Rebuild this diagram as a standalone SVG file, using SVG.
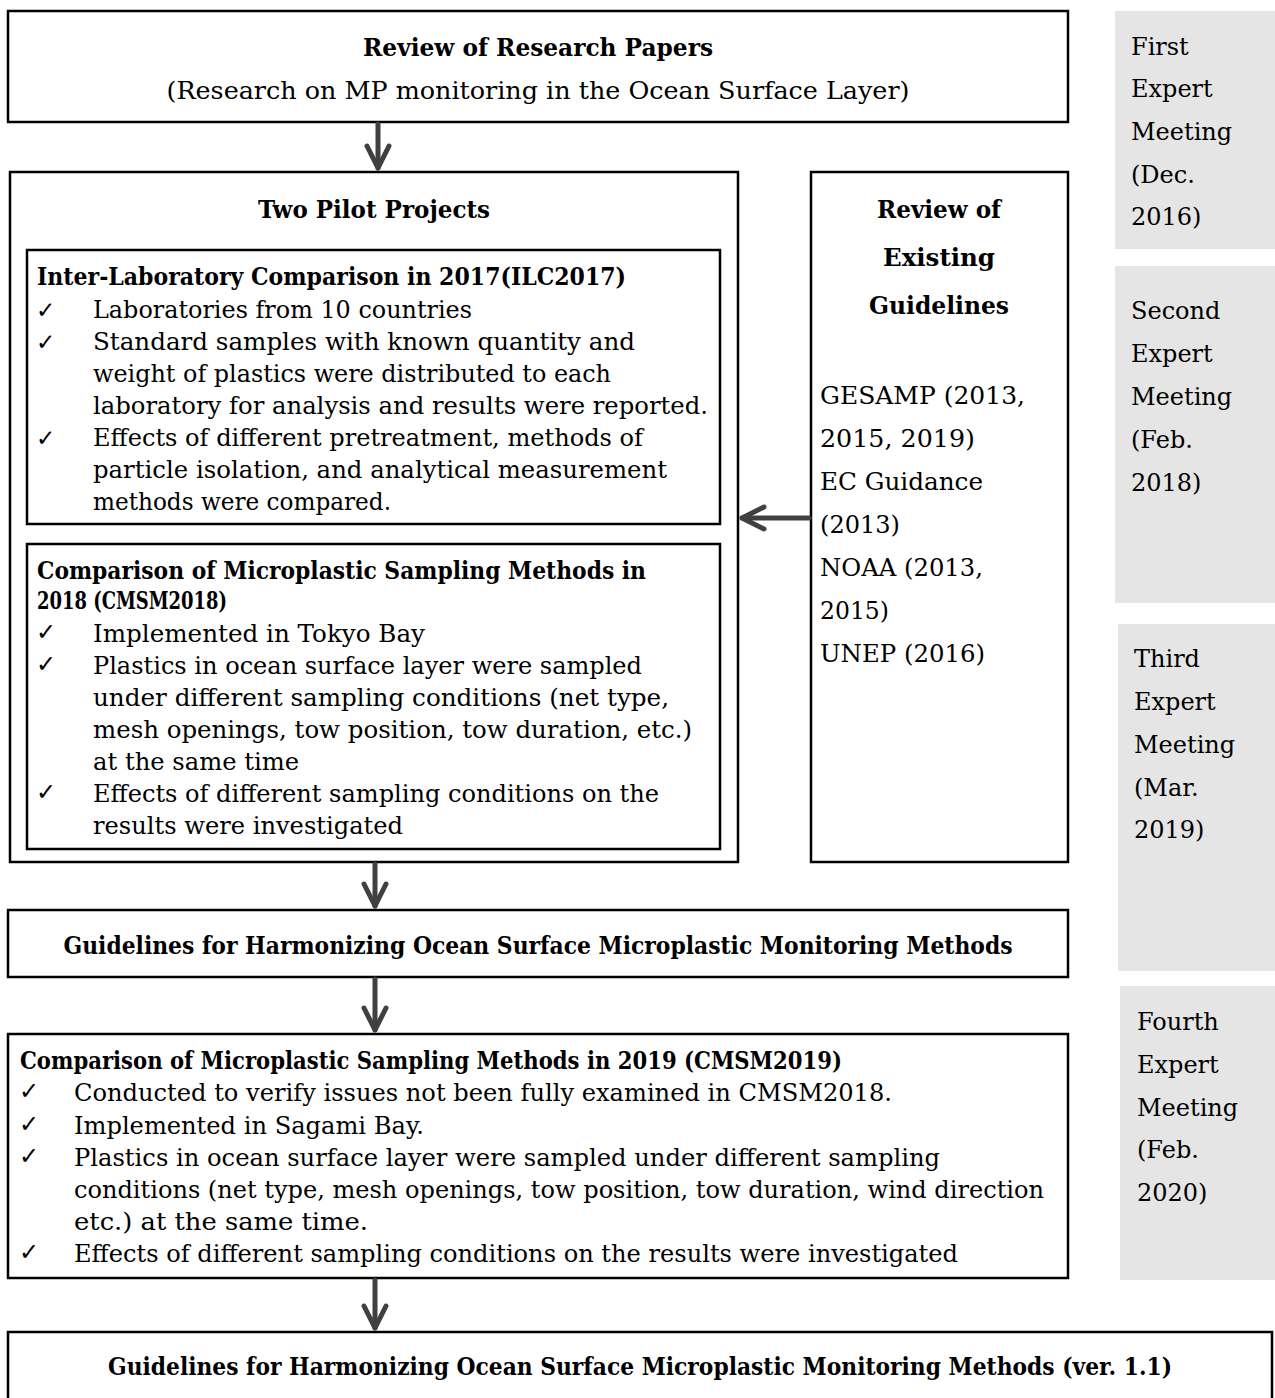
<svg xmlns="http://www.w3.org/2000/svg" width="1275" height="1398" viewBox="0 0 1275 1398">
<style>
.box{fill:#fff;stroke:#000;stroke-width:2.5}
.gray{fill:#e5e5e5;stroke:none}
text{font-family:"DejaVu Serif","Liberation Serif",serif;fill:#000}
.t{font-size:25px;font-weight:bold}
.b{font-size:24px}
.s{font-size:24px}
.g{font-size:24px}
.ck{font-family:"DejaVu Sans",sans-serif;font-size:23px}
.ckb{font-family:"DejaVu Sans",sans-serif;font-size:24px;font-weight:bold}
.c{text-anchor:middle}
.conn{stroke:#404040;stroke-width:5;stroke-linecap:round;fill:none}
</style>
<defs>
<marker id="ah" markerUnits="userSpaceOnUse" orient="auto" refX="0" refY="0" markerWidth="40" markerHeight="40" overflow="visible">
<path d="M-22,-11 L0,0 L-22,11" fill="none" stroke="#404040" stroke-width="5" stroke-linecap="round" stroke-linejoin="round"/>
</marker>
</defs>

<g id="meeting1"><rect class="gray" x="1115" y="11" width="160" height="238"/>
<text class="g" x="1131" y="55">First</text><text class="g" x="1131" y="97">Expert</text><text class="g" x="1131" y="140">Meeting</text><text class="g" x="1131" y="183">(Dec.</text><text class="g" x="1131" y="225">2016)</text></g>
<g id="meeting2"><rect class="gray" x="1115" y="266" width="160" height="337"/>
<text class="g" x="1131" y="319">Second</text><text class="g" x="1131" y="362">Expert</text><text class="g" x="1131" y="405">Meeting</text><text class="g" x="1131" y="448">(Feb.</text><text class="g" x="1131" y="491">2018)</text></g>
<g id="meeting3"><rect class="gray" x="1118" y="624" width="157" height="347"/>
<text class="g" x="1134" y="667">Third</text><text class="g" x="1134" y="710">Expert</text><text class="g" x="1134" y="753">Meeting</text><text class="g" x="1134" y="796">(Mar.</text><text class="g" x="1134" y="838">2019)</text></g>
<g id="meeting4"><rect class="gray" x="1120" y="986" width="155" height="294"/>
<text class="g" x="1137" y="1030">Fourth</text><text class="g" x="1137" y="1073">Expert</text><text class="g" x="1137" y="1116">Meeting</text><text class="g" x="1137" y="1158">(Feb.</text><text class="g" x="1137" y="1201">2020)</text></g>

<g id="review-papers"><rect class="box" x="8" y="11" width="1060" height="111"/>
<text class="t c" x="538" y="56" textLength="350" lengthAdjust="spacingAndGlyphs">Review of Research Papers</text>
<text class="s c" x="538" y="99" textLength="743" lengthAdjust="spacingAndGlyphs">(Research on MP monitoring in the Ocean Surface Layer)</text></g>

<g id="pilot-projects"><rect class="box" x="10" y="172" width="728" height="690"/>
<text class="t c" x="374" y="218" textLength="232" lengthAdjust="spacingAndGlyphs">Two Pilot Projects</text></g>

<g id="ilc2017"><rect class="box" x="27" y="250" width="693" height="274"/>
<text class="t" x="37" y="285" textLength="589" lengthAdjust="spacingAndGlyphs">Inter-Laboratory Comparison in 2017(ILC2017)</text>
<text class="ck" x="36" y="318">✓</text><text class="ck" x="36" y="350">✓</text><text class="ck" x="36" y="446">✓</text>
<text class="b" x="93" y="318" textLength="379" lengthAdjust="spacingAndGlyphs">Laboratories from 10 countries</text>
<text class="b" x="93" y="350" textLength="542" lengthAdjust="spacingAndGlyphs">Standard samples with known quantity and</text>
<text class="b" x="93" y="382" textLength="518" lengthAdjust="spacingAndGlyphs">weight of plastics were distributed to each</text>
<text class="b" x="93" y="414" textLength="615" lengthAdjust="spacingAndGlyphs">laboratory for analysis and results were reported.</text>
<text class="b" x="93" y="446" textLength="550" lengthAdjust="spacingAndGlyphs">Effects of different pretreatment, methods of</text>
<text class="b" x="93" y="478" textLength="574" lengthAdjust="spacingAndGlyphs">particle isolation, and analytical measurement</text>
<text class="b" x="93" y="510" textLength="298" lengthAdjust="spacingAndGlyphs">methods were compared.</text></g>

<g id="cmsm2018"><rect class="box" x="27" y="544" width="693" height="305"/>
<text class="t" x="37" y="579" textLength="609" lengthAdjust="spacingAndGlyphs">Comparison of Microplastic Sampling Methods in</text>
<text class="t" x="37" y="609" textLength="190" lengthAdjust="spacingAndGlyphs">2018 (CMSM2018)</text>
<text class="ckb" x="36" y="640">✓</text><text class="ckb" x="36" y="672">✓</text><text class="ckb" x="36" y="800">✓</text>
<text class="b" x="93" y="642" textLength="332" lengthAdjust="spacingAndGlyphs">Implemented in Tokyo Bay</text>
<text class="b" x="93" y="674" textLength="549" lengthAdjust="spacingAndGlyphs">Plastics in ocean surface layer were sampled</text>
<text class="b" x="93" y="706" textLength="576" lengthAdjust="spacingAndGlyphs">under different sampling conditions (net type,</text>
<text class="b" x="93" y="738" textLength="599" lengthAdjust="spacingAndGlyphs">mesh openings, tow position, tow duration, etc.)</text>
<text class="b" x="93" y="770" textLength="206" lengthAdjust="spacingAndGlyphs">at the same time</text>
<text class="b" x="93" y="802" textLength="566" lengthAdjust="spacingAndGlyphs">Effects of different sampling conditions on the</text>
<text class="b" x="93" y="834" textLength="310" lengthAdjust="spacingAndGlyphs">results were investigated</text></g>

<g id="existing-guidelines"><rect class="box" x="811" y="172" width="257" height="690"/>
<text class="t c" x="939" y="218" textLength="124" lengthAdjust="spacingAndGlyphs">Review of</text>
<text class="t c" x="939" y="266" textLength="112" lengthAdjust="spacingAndGlyphs">Existing</text>
<text class="t c" x="939" y="314" textLength="140" lengthAdjust="spacingAndGlyphs">Guidelines</text>
<text class="b" x="820" y="404" textLength="205" lengthAdjust="spacingAndGlyphs">GESAMP (2013,</text>
<text class="b" x="820" y="447" textLength="155" lengthAdjust="spacingAndGlyphs">2015, 2019)</text>
<text class="b" x="820" y="490" textLength="163" lengthAdjust="spacingAndGlyphs">EC Guidance</text>
<text class="b" x="820" y="533" textLength="80" lengthAdjust="spacingAndGlyphs">(2013)</text>
<text class="b" x="820" y="576" textLength="163" lengthAdjust="spacingAndGlyphs">NOAA (2013,</text>
<text class="b" x="820" y="619" textLength="69" lengthAdjust="spacingAndGlyphs">2015)</text>
<text class="b" x="820" y="662" textLength="165" lengthAdjust="spacingAndGlyphs">UNEP (2016)</text></g>

<g id="guidelines"><rect class="box" x="8" y="910" width="1060" height="67"/>
<text class="t c" x="538" y="954" textLength="949" lengthAdjust="spacingAndGlyphs">Guidelines for Harmonizing Ocean Surface Microplastic Monitoring Methods</text></g>

<g id="cmsm2019"><rect class="box" x="8" y="1034" width="1060" height="244"/>
<text class="t" x="20" y="1069" textLength="822" lengthAdjust="spacingAndGlyphs">Comparison of Microplastic Sampling Methods in 2019 (CMSM2019)</text>
<text class="ckb" x="19" y="1099">✓</text><text class="ckb" x="19" y="1132">✓</text><text class="ckb" x="19" y="1164">✓</text><text class="ckb" x="19" y="1260">✓</text>
<text class="b" x="74" y="1101" textLength="818" lengthAdjust="spacingAndGlyphs">Conducted to verify issues not been fully examined in CMSM2018.</text>
<text class="b" x="74" y="1134" textLength="350" lengthAdjust="spacingAndGlyphs">Implemented in Sagami Bay.</text>
<text class="b" x="74" y="1166" textLength="866" lengthAdjust="spacingAndGlyphs">Plastics in ocean surface layer were sampled under different sampling</text>
<text class="b" x="74" y="1198" textLength="970" lengthAdjust="spacingAndGlyphs">conditions (net type, mesh openings, tow position, tow duration, wind direction</text>
<text class="b" x="74" y="1230" textLength="294" lengthAdjust="spacingAndGlyphs">etc.) at the same time.</text>
<text class="b" x="74" y="1262" textLength="884" lengthAdjust="spacingAndGlyphs">Effects of different sampling conditions on the results were investigated</text></g>

<g id="guidelines-v11"><rect class="box" x="8" y="1332" width="1264" height="67.5"/>
<text class="t c" x="640" y="1375" textLength="1064" lengthAdjust="spacingAndGlyphs">Guidelines for Harmonizing Ocean Surface Microplastic Monitoring Methods (ver. 1.1)</text></g>

<g id="connectors">
<line class="conn" x1="378" y1="124" x2="378" y2="168" marker-end="url(#ah)"/>
<line class="conn" x1="809" y1="518" x2="742" y2="518" marker-end="url(#ah)"/>
<line class="conn" x1="375" y1="864" x2="375" y2="906" marker-end="url(#ah)"/>
<line class="conn" x1="375" y1="979" x2="375" y2="1030" marker-end="url(#ah)"/>
<line class="conn" x1="375" y1="1280" x2="375" y2="1328" marker-end="url(#ah)"/>
</g>
</svg>
